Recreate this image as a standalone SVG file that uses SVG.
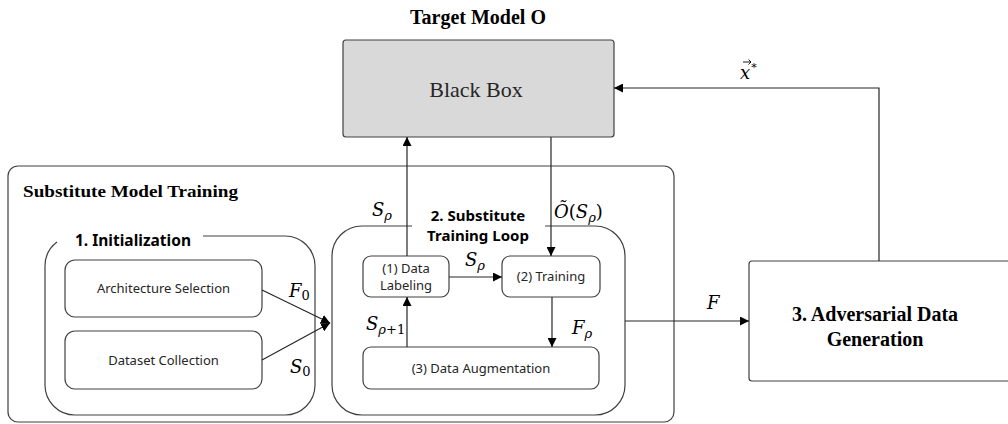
<svg xmlns="http://www.w3.org/2000/svg" width="1008" height="424" viewBox="0 0 1008 424">
  <style>
    .box { fill: #ffffff; stroke: #404040; stroke-width: 1.2; }
    .gray { fill: #d9d9d9; stroke: #404040; stroke-width: 1.2; }
    .edge { fill: none; stroke: #262626; stroke-width: 1.2; }
    .serifb { font-family: "Liberation Serif", "Times New Roman", serif; font-weight: bold; fill: #000; }
    .serif { font-family: "Liberation Serif", "Times New Roman", serif; fill: #262626; }
    .sans { font-family: "Noto Sans", "Open Sans", sans-serif; fill: #262626; }
    .sansb { font-family: "Noto Sans", "Open Sans", sans-serif; font-weight: bold; fill: #000; }
    .math { font-family: "DejaVu Serif", "Liberation Serif", serif; font-style: italic; fill: #000; font-size: 18px; }
    .sub { font-size: 13px; }
    .up { font-style: normal; }
  </style>
  <defs>
    <marker id="arrow" viewBox="0 0 10 10" refX="10" refY="5" markerWidth="9" markerHeight="9" markerUnits="userSpaceOnUse" orient="auto">
      <path d="M0,0 L10,5 L0,10 z" fill="#000"/>
    </marker>
  </defs>

  <!-- Target model -->
  <g id="target-model">
    <text class="serifb" x="478" y="24" font-size="20" text-anchor="middle">Target Model O</text>
    <rect class="gray" x="343" y="40" width="271" height="97" rx="3"/>
    <text class="serif" x="476" y="97" font-size="22" text-anchor="middle">Black Box</text>
  </g>

  <!-- Substitute model training container -->
  <g id="substitute-training">
    <rect class="box" x="8" y="166" width="666" height="256" rx="10"/>
    <text class="serifb" x="23" y="197" font-size="17" textLength="215" lengthAdjust="spacingAndGlyphs">Substitute Model Training</text>
  </g>

  <!-- 1. Initialization -->
  <g id="initialization">
    <path class="box" fill="none" d="M203,236 H285 A30,30 0 0 1 315,266 V385 A30,30 0 0 1 285,415 H75 A30,30 0 0 1 45,385 V266 A30,30 0 0 1 57,242"/>
    <text class="sansb" x="75" y="246" font-size="16" textLength="116" lengthAdjust="spacingAndGlyphs">1. Initialization</text>
  </g>
  <g id="architecture-selection">
    <rect class="box" x="65" y="260" width="197" height="57" rx="10"/>
    <text class="sans" x="163.5" y="293" font-size="13" text-anchor="middle">Architecture Selection</text>
  </g>
  <g id="dataset-collection">
    <rect class="box" x="65" y="331" width="197" height="58" rx="10"/>
    <text class="sans" x="163.5" y="365" font-size="13" text-anchor="middle">Dataset Collection</text>
  </g>

  <!-- 2. Substitute training loop -->
  <g id="training-loop">
    <path class="box" fill="none" d="M545,226 H595 A30,30 0 0 1 625,256 V385 A30,30 0 0 1 595,415 H362 A30,30 0 0 1 332,385 V256 A30,30 0 0 1 362,226 H412"/>
    <text class="sansb" x="478" y="221" font-size="15" text-anchor="middle">2. Substitute</text>
    <text class="sansb" x="478" y="241" font-size="15" text-anchor="middle">Training Loop</text>
  </g>
  <g id="data-labeling">
    <rect class="box" x="363" y="256" width="86" height="41" rx="8"/>
    <text class="sans" x="406" y="273" font-size="13" text-anchor="middle">(1) Data</text>
    <text class="sans" x="406" y="290" font-size="13" text-anchor="middle">Labeling</text>
  </g>
  <g id="training">
    <rect class="box" x="502" y="256" width="98" height="41" rx="8"/>
    <text class="sans" x="551" y="281" font-size="13" text-anchor="middle">(2) Training</text>
  </g>
  <g id="data-augmentation">
    <rect class="box" x="363" y="347" width="236" height="42" rx="8"/>
    <text class="sans" x="481" y="373" font-size="13" text-anchor="middle">(3) Data Augmentation</text>
  </g>

  <!-- 3. Adversarial data generation -->
  <g id="adversarial-generation">
    <rect class="box" x="749" y="261" width="262" height="120" rx="3"/>
    <text class="serifb" x="875" y="321" font-size="20" text-anchor="middle">3. Adversarial Data</text>
    <text class="serifb" x="875" y="346" font-size="20" text-anchor="middle">Generation</text>
  </g>

  <!-- Connectors -->
  <g id="connectors">
    <line class="edge" x1="262" y1="290" x2="330" y2="323" marker-end="url(#arrow)"/>
    <line class="edge" x1="262" y1="360" x2="330" y2="323" marker-end="url(#arrow)"/>
    <line class="edge" x1="407" y1="256" x2="407" y2="137" marker-end="url(#arrow)"/>
    <line class="edge" x1="551" y1="137" x2="551" y2="256" marker-end="url(#arrow)"/>
    <line class="edge" x1="449" y1="277" x2="502" y2="277" marker-end="url(#arrow)"/>
    <line class="edge" x1="552" y1="297" x2="552" y2="347" marker-end="url(#arrow)"/>
    <line class="edge" x1="407" y1="347" x2="407" y2="297" marker-end="url(#arrow)"/>
    <line class="edge" x1="625" y1="321" x2="749" y2="321" marker-end="url(#arrow)"/>
    <polyline class="edge" points="879,261 879,88 614,88" marker-end="url(#arrow)"/>

    <!-- edge labels -->
    <text class="math" x="289" y="297">F<tspan class="sub up" dy="3">0</tspan></text>
    <text class="math" x="290" y="373">S<tspan class="sub up" dy="3">0</tspan></text>
    <text class="math" x="372" y="216">S<tspan class="sub" dy="4">ρ</tspan></text>
    <text class="math" x="554" y="218">Õ<tspan class="up">(</tspan>S<tspan class="sub" dy="4">ρ</tspan><tspan class="up" dy="-4">)</tspan></text>
    <text class="math" x="465" y="266">S<tspan class="sub" dy="4">ρ</tspan></text>
    <text class="math" x="572" y="334">F<tspan class="sub" dy="4">ρ</tspan></text>
    <text class="math" x="366" y="330">S<tspan class="sub" dy="4">ρ<tspan class="up">+1</tspan></tspan></text>
    <text class="math" x="707" y="309">F</text>
    <text class="math" x="740" y="79">x<tspan font-size="11" dy="-8" dx="1" class="up">*</tspan></text>
    <path d="M743,62 H751 M748.5,59.5 L751,62 L748.5,64.5" fill="none" stroke="#000" stroke-width="0.9"/>
  </g>
</svg>
